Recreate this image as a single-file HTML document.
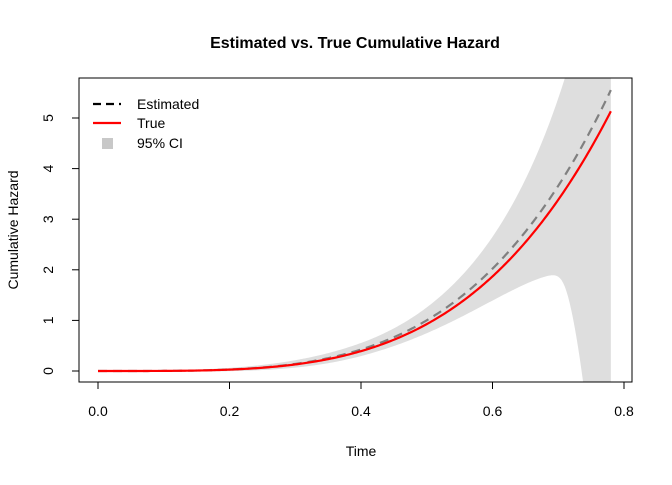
<!DOCTYPE html><html><head><style>body{margin:0;background:#fff}svg{font-family:"Liberation Sans",Arial,sans-serif}</style></head><body>
<svg id="s" width="672" height="480" xmlns="http://www.w3.org/2000/svg">
<defs><clipPath id="c"><rect x="79" y="78" width="553" height="304"/></clipPath></defs>
<g clip-path="url(#c)">
<path id="band" fill="#dedede" stroke="none"/>
<path id="est" fill="none" stroke="#808080" stroke-width="2.2" stroke-dasharray="9,6"/>
<path id="tru" fill="none" stroke="#ff0000" stroke-width="2.2"/>
</g>
<rect x="79" y="78" width="553" height="304" fill="none" stroke="#000" stroke-width="1"/>
<text x="355" y="48" text-anchor="middle" font-size="16" font-weight="bold">Estimated vs. True Cumulative Hazard</text>
<g stroke="#000"><line x1="98" y1="382" x2="624" y2="382"/>
<line x1="98" y1="382" x2="98" y2="389"/><line x1="229.5" y1="382" x2="229.5" y2="389"/><line x1="361" y1="382" x2="361" y2="389"/><line x1="492.5" y1="382" x2="492.5" y2="389"/><line x1="624" y1="382" x2="624" y2="389"/>
<line x1="79" y1="371" x2="79" y2="118"/>
<line x1="72" y1="371" x2="79" y2="371"/><line x1="72" y1="320.4" x2="79" y2="320.4"/><line x1="72" y1="269.8" x2="79" y2="269.8"/><line x1="72" y1="219.2" x2="79" y2="219.2"/><line x1="72" y1="168.6" x2="79" y2="168.6"/><line x1="72" y1="118" x2="79" y2="118"/></g>
<g font-size="14" text-anchor="middle"><text x="98" y="416">0.0</text><text x="229.5" y="416">0.2</text><text x="361" y="416">0.4</text><text x="492.5" y="416">0.6</text><text x="624" y="416">0.8</text>
<text x="361" y="456">Time</text>
<text transform="translate(53,371) rotate(-90)">0</text><text transform="translate(53,320.4) rotate(-90)">1</text><text transform="translate(53,269.8) rotate(-90)">2</text><text transform="translate(53,219.2) rotate(-90)">3</text><text transform="translate(53,168.6) rotate(-90)">4</text><text transform="translate(53,118) rotate(-90)">5</text>
<text transform="translate(18,230) rotate(-90)">Cumulative Hazard</text></g>
<line x1="93" y1="104" x2="121" y2="104" stroke="#000" stroke-width="2.2" stroke-dasharray="8,5"/>
<line x1="93" y1="123" x2="121" y2="123" stroke="#f00" stroke-width="2.2"/>
<rect x="102" y="138" width="11" height="11" fill="#c8c8c8"/>
<g font-size="14"><text x="137" y="109">Estimated</text><text x="137" y="128">True</text><text x="137" y="148">95% CI</text></g>
</svg>
<script>
function X(t){return 98+t*657.5}function Y(v){return 371-v*50.6}
function E(t){return 14.45*Math.pow(t,3.85)}
function D(t){if(t<=0.4)return 0.13*Math.pow(t/0.4,2);var x=Math.log(t/0.6);return 0.63*Math.exp(5.82*x+4.74*x*x)}
function F(t){var s=0.006;return s*Math.log(1+Math.exp((t-0.708)/s))/0.036}
var est=[],tru=[],U=[],L=[];
for(var i=0;i<=312;i++){var t=i*0.0025;var e=E(t),d=D(t);
est.push(X(t)+","+Y(e));tru.push(X(t)+","+Y(13.36*Math.pow(t,3.85)));
U.push(X(t)+","+Y(e+d));
L.push(X(t)+","+Y(Math.max(e-d*(1+F(t)),-2)));}
var dd="M"+U.join("L")+"L"+L.reverse().join("L")+"Z";
document.getElementById("band").setAttribute("d",dd);
document.getElementById("est").setAttribute("d","M"+est.join("L"));
document.getElementById("tru").setAttribute("d","M"+tru.join("L"));
</script></body></html>
